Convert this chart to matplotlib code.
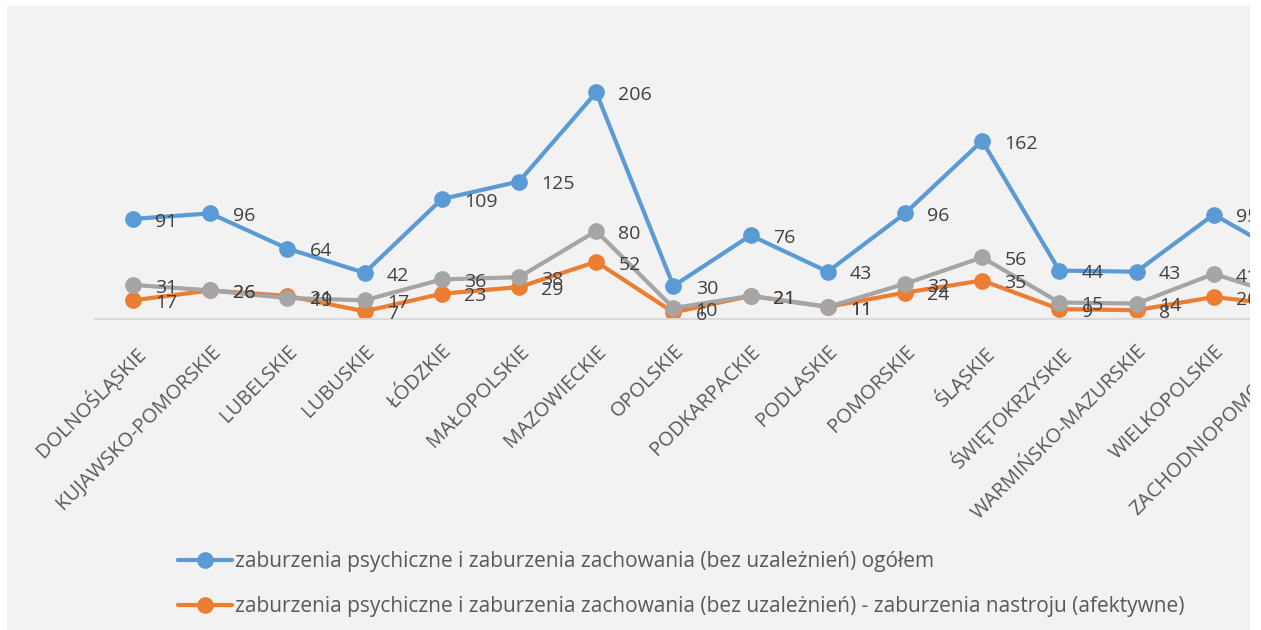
import matplotlib.pyplot as plt
from matplotlib.patches import Rectangle

plt.rcParams['font.family'] = ['Open Sans', 'DejaVu Sans']

# dane
wojewodztwa = ['DOLNOŚLĄSKIE', 'KUJAWSKO-POMORSKIE', 'LUBELSKIE', 'LUBUSKIE', 'ŁÓDZKIE',
               'MAŁOPOLSKIE', 'MAZOWIECKIE', 'OPOLSKIE', 'PODKARPACKIE', 'PODLASKIE',
               'POMORSKIE', 'ŚLĄSKIE', 'ŚWIĘTOKRZYSKIE', 'WARMIŃSKO-MAZURSKIE',
               'WIELKOPOLSKIE', 'ZACHODNIOPOMORSKIE']
ogolem = [91, 96, 64, 42, 109, 125, 206, 30, 76, 43, 96, 162, 44, 43, 95, 55]
nastroj = [17, 26, 21, 7, 23, 29, 52, 6, 21, 11, 24, 35, 9, 8, 20, 12]
trzecia = [31, 26, 19, 17, 36, 38, 80, 10, 21, 11, 32, 56, 15, 14, 41, 19]

etykiety = ['zaburzenia psychiczne i zaburzenia zachowania (bez uzależnień) ogółem',
            'zaburzenia psychiczne i zaburzenia zachowania (bez uzależnień) - zaburzenia nastroju (afektywne)']

W, H = 1261, 630
fig = plt.figure(figsize=(W / 100, H / 100), dpi=100, facecolor='white')
# szare tło wykresu
fig.patches.append(Rectangle((7 / W, 0), (1250 - 7) / W, (H - 6) / H, transform=fig.transFigure,
                             facecolor='#f2f2f2', edgecolor='none', zorder=-10))

ax = fig.add_axes([94.5 / W, (H - 319) / H, 1235 / W, (319 - 44) / H])
ax.set_facecolor('none')
x = list(range(len(wojewodztwa)))

serie = [(ogolem, '#5b9bd5', etykiety[0]), (nastroj, '#ed7d31', etykiety[1]), (trzecia, '#a5a5a5', None)]
for wartosci, kolor, nazwa in serie:
    ax.plot(x, wartosci, color=kolor, lw=3, marker='o', ms=11, label=nazwa, solid_capstyle='round')
for wartosci, kolor, nazwa in serie:
    for xi, v in zip(x, wartosci):
        ax.annotate(str(v), (xi, v), xytext=(16, -2), textcoords='offset points',
                    ha='left', va='center', fontsize=14, color='#404040')

ax.set_xlim(-0.5, len(wojewodztwa) - 0.5)
ax.set_ylim(0, 250)
for s in ['top', 'right', 'left']:
    ax.spines[s].set_visible(False)
ax.spines['bottom'].set_color('#d9d9d9')
ax.spines['bottom'].set_linewidth(1.5)
ax.set_yticks([])
ax.set_xticks(x)
ax.set_xticklabels(wojewodztwa, rotation=45, ha='right', rotation_mode='anchor',
                   fontsize=14.5, color='#595959')
ax.tick_params(axis='x', length=0, pad=16)

ax.legend(loc='upper left', bbox_to_anchor=(178 / W, 1 - 551 / H), bbox_transform=fig.transFigure,
          frameon=False, fontsize=15, labelcolor='#595959', handlelength=2.6, handletextpad=0.15,
          labelspacing=1.15, borderpad=0, borderaxespad=0)

# białe krawędzie (wykres ucięty z prawej)
fig.patches.append(Rectangle((1250 / W, 0), 11 / W, 1, transform=fig.transFigure,
                             facecolor='white', edgecolor='none', zorder=100))
fig.patches.append(Rectangle((0, 0), 7 / W, 1, transform=fig.transFigure,
                             facecolor='white', edgecolor='none', zorder=100))

fig.savefig('out.png', dpi=100, facecolor='white')
